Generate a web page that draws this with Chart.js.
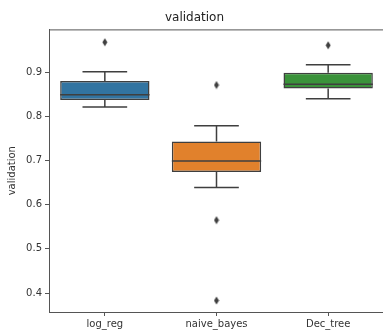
<!DOCTYPE html>
<html>
<head>
<meta charset="utf-8">
<script src="https://cdn.jsdelivr.net/npm/chart.js@4"></script>
<style>
  html, body { margin: 0; padding: 0; background: #fff; overflow: hidden; }
  #wrap { width: 389px; height: 336px; }
</style>
</head>
<body>
<div id="wrap"><canvas id="box"></canvas></div>
<script>
const models = ['log_reg', 'naive_bayes', 'Dec_tree'];
const whiskerLow = [0.821, 0.639, 0.840];
const q1 = [0.837, 0.674, 0.863];
const median = [0.849, 0.699, 0.873];
const q3 = [0.880, 0.743, 0.899];
const whiskerHigh = [0.901, 0.779, 0.917];
const outliers = [[0.968], [0.871, 0.565, 0.383], [0.961]];
const yTicks = [0.4, 0.5, 0.6, 0.7, 0.8, 0.9];
const colors = ['#3274a1', '#e1812c', '#3a923a'];

const edge = '#3f3f3f';
const axisColor = '#555';
const font = { family: 'DejaVu Sans', size: 10 };

// thin diamond marker like matplotlib 'd'
const diamond = document.createElement('canvas');
diamond.width = 6; diamond.height = 9;
(function () {
  const c = diamond.getContext('2d');
  c.fillStyle = edge;
  c.beginPath();
  c.moveTo(3, 0.5); c.lineTo(5.5, 4.5); c.lineTo(3, 8.5); c.lineTo(0.5, 4.5);
  c.closePath();
  c.fill();
})();

const outlierPoints = [];
outliers.forEach((vals, i) => vals.forEach(v => outlierPoints.push({ x: models[i], y: v })));

const boxExtras = {
  id: 'boxExtras',
  afterDatasetsDraw(chart) {
    const ctx = chart.ctx, x = chart.scales.x, y = chart.scales.y;
    const step = x.getPixelForValue(1) - x.getPixelForValue(0);
    ctx.save();
    ctx.lineWidth = 1.5;
    ctx.strokeStyle = edge;
    models.forEach((m, i) => {
      const cx = x.getPixelForValue(i);
      const cap = step * 0.2;
      const half = step * 0.4;
      ctx.beginPath();
      ctx.moveTo(cx, y.getPixelForValue(q3[i]));
      ctx.lineTo(cx, y.getPixelForValue(whiskerHigh[i]));
      ctx.moveTo(cx - cap, y.getPixelForValue(whiskerHigh[i]));
      ctx.lineTo(cx + cap, y.getPixelForValue(whiskerHigh[i]));
      ctx.moveTo(cx, y.getPixelForValue(q1[i]));
      ctx.lineTo(cx, y.getPixelForValue(whiskerLow[i]));
      ctx.moveTo(cx - cap, y.getPixelForValue(whiskerLow[i]));
      ctx.lineTo(cx + cap, y.getPixelForValue(whiskerLow[i]));
      ctx.moveTo(cx - half, y.getPixelForValue(median[i]));
      ctx.lineTo(cx + half, y.getPixelForValue(median[i]));
      ctx.stroke();
    });
    // top spine
    const a = chart.chartArea;
    ctx.strokeStyle = axisColor;
    ctx.lineWidth = 1;
    ctx.beginPath();
    ctx.moveTo(a.left, a.top + 0.5);
    ctx.lineTo(a.right, a.top + 0.5);
    ctx.stroke();
    ctx.restore();
  }
};

new Chart(document.getElementById('box'), {
  data: {
    labels: models,
    datasets: [{
      type: 'bar',
      data: models.map((m, i) => [q1[i], q3[i]]),
      backgroundColor: colors,
      borderColor: edge,
      borderWidth: 1.5,
      borderSkipped: false,
      barPercentage: 0.8,
      categoryPercentage: 1
    }, {
      type: 'line',
      data: outlierPoints,
      showLine: false,
      pointStyle: diamond,
      pointRadius: 4
    }]
  },
  options: {
    responsive: true,
    maintainAspectRatio: false,
    animation: false,
    layout: { padding: { left: 0, right: 0, top: 0, bottom: 0 } },
    plugins: {
      legend: { display: false },
      tooltip: { enabled: false },
      title: {
        display: true,
        text: 'validation',
        color: '#222',
        font: { family: 'DejaVu Sans', size: 12, weight: 'normal' },
        padding: { top: 11, bottom: 4 }
      }
    },
    scales: {
      x: {
        type: 'category',
        offset: true,
        grid: { display: true, offset: false, drawOnChartArea: false, tickLength: 4, color: axisColor },
        border: { display: true, color: axisColor },
        ticks: { color: '#333', font: font, padding: 2 },
        afterFit: s => { s.height = 24; }
      },
      y: {
        min: 0.357,
        max: 0.997,
        grid: { display: true, drawOnChartArea: false, tickLength: 4, color: axisColor },
        border: { display: true, color: axisColor },
        ticks: { color: '#333', font: font, padding: 3, callback: v => v.toFixed(1) },
        afterBuildTicks: s => { s.ticks = yTicks.map(v => ({ value: v })); },
        title: { display: true, text: 'validation', color: '#333', font: font, padding: { top: 6, bottom: 0 } },
        afterFit: s => { s.width = 49; }
      }
    }
  },
  plugins: [boxExtras]
});
</script>
</body>
</html>
